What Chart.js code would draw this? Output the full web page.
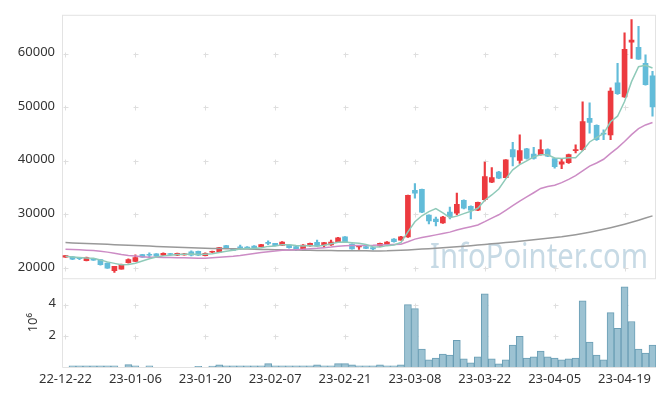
<!DOCTYPE html>
<html>
<head>
<meta charset="utf-8">
<script src="https://cdn.jsdelivr.net/npm/chart.js@4.4.0/dist/chart.umd.min.js"></script>
<style>
  html, body { margin: 0; padding: 0; background: #fff; }
</style>
</head>
<body>
<canvas id="chart1" width="665" height="396"></canvas>
<script>
const dates = [
  '22-12-22','22-12-23','22-12-26','22-12-27','22-12-28','22-12-29',
  '23-01-02','23-01-03','23-01-04','23-01-05','23-01-06','23-01-09','23-01-10','23-01-11','23-01-12','23-01-13',
  '23-01-16','23-01-17','23-01-18','23-01-19','23-01-20','23-01-25','23-01-26','23-01-27','23-01-30','23-01-31',
  '23-02-01','23-02-02','23-02-03','23-02-06','23-02-07','23-02-08','23-02-09','23-02-10','23-02-13','23-02-14',
  '23-02-15','23-02-16','23-02-17','23-02-20','23-02-21','23-02-22','23-02-23','23-02-24','23-02-27','23-02-28',
  '23-03-02','23-03-03','23-03-06','23-03-07','23-03-08','23-03-09','23-03-10','23-03-13','23-03-14','23-03-15',
  '23-03-16','23-03-17','23-03-20','23-03-21','23-03-22','23-03-23','23-03-24','23-03-27','23-03-28','23-03-29',
  '23-03-30','23-03-31','23-04-03','23-04-04','23-04-05','23-04-06','23-04-07','23-04-10','23-04-11','23-04-12',
  '23-04-13','23-04-14','23-04-17','23-04-18','23-04-19','23-04-20','23-04-21','23-04-24','23-04-25'
];

const open = [
  22000,22060,21800,21330,21750,21570,20880,19480,19780,20960,21200,22490,22490,22620,22360,22640,22360,22400,22980,23100,
  22300,22910,22910,24140,23590,23830,23830,24090,23960,24700,24570,24200,24270,23960,23460,24090,24750,24270,24270,24750,
  25800,24460,23900,23960,23780,24090,24380,25380,25190,25800,34460,34640,29850,29120,28380,30410,30220,32620,31510,30780,
  32750,35990,37900,36850,42070,40040,42200,41220,41150,42070,40410,39380,39620,41880,42070,47910,46620,45140,44830,54540,
  51900,62150,61170,58170,55830
];
const high = [
  22350,22100,21950,22000,21800,21600,20950,20300,20700,21700,22430,22550,22800,22650,22800,22700,22750,22700,23200,23150,
  22800,23150,23850,24200,23650,24270,23960,24150,24400,25070,24600,24900,24300,24000,24350,24650,25190,24750,25190,25700,
  25850,24500,24200,24000,23830,24650,24900,25450,25900,33600,35750,34700,29900,29490,29600,31330,33960,32700,31600,32300,
  39750,38700,38000,40200,43430,44830,42300,42510,43910,42200,40500,40410,41250,42990,50980,50800,46700,45750,53620,58170,
  63880,66330,65090,59750,56690
];
const low = [
  21950,21550,21550,21300,21400,20500,19900,19150,19750,20900,21150,21950,22100,22100,22300,22450,22300,22350,22250,22300,
  22250,22850,22850,23600,23200,23460,23590,23650,23900,24330,24100,24150,23700,23220,23400,24050,24050,23960,24200,24700,
  24800,23500,23460,23600,23350,24000,24300,24800,25150,25700,32990,30300,28200,27830,28300,29120,29900,31000,29120,30700,
  32500,35900,36650,36800,39010,39500,40300,40300,41050,40750,38600,38510,39500,41450,41900,45140,43800,43910,43910,52400,
  51800,59090,58900,54100,48330
];
const close = [
  22300,21620,21700,21930,21440,20590,19960,20280,20650,21570,21930,22000,22360,22170,22730,22500,22730,22620,22360,22360,
  22730,23100,23780,23650,23280,23720,23700,23720,24330,24570,24140,24830,23780,23460,24270,24570,24090,24700,24830,25620,
  24880,23540,24140,23650,23540,24570,24830,24880,25800,33540,33960,30410,28750,28620,29490,29540,31880,31140,30780,32250,
  37040,36850,36730,40170,40720,41880,40410,40410,42070,40850,38880,39800,41150,42070,47300,47170,43910,44960,53010,52510,
  60800,62510,58960,54220,50060
];
// volume in millions of shares (axis label 10^6)
const volumeM = [
  0,0.08,0.08,0.08,0.08,0.08,0.08,0.08,0,0.15,0.07,0,0.07,0,0,0,0,0,0,0.05,
  0,0.06,0.14,0.07,0.07,0.07,0.07,0.07,0.07,0.22,0.07,0.07,0.07,0.07,0.07,0.07,0.14,0.07,0.07,0.22,
  0.22,0.14,0.07,0.07,0.07,0.14,0.07,0.07,0.14,4.0,3.75,1.15,0.46,0.58,0.83,0.77,1.72,0.52,0.27,0.65,
  4.7,0.52,0.2,0.46,1.4,1.97,0.58,0.65,1.03,0.65,0.58,0.46,0.52,0.58,4.25,1.6,0.77,0.46,3.49,2.48,
  5.14,2.92,1.15,0.9,1.4
];
const ma5 = [
  22170,22050,21950,21850,21800,21460,21120,20840,20580,20610,20880,21290,21700,22010,22240,22350,22500,22550,22590,22510,
  22560,22630,22870,23120,23310,23510,23630,23610,23750,24010,24090,24320,24330,24160,24100,24180,24030,24220,24490,24760,
  24820,24710,24600,24370,23950,23890,24150,24290,24720,26720,28600,29720,30490,31060,30250,29360,29660,30130,30570,31120,
  32620,33610,34730,36610,38300,39270,39980,40720,41100,41120,40520,40400,40550,40550,41840,43500,44320,45080,47270,48310,
  51040,54760,57560,57800,57310
];
const ma20 = [
  23460,23420,23370,23300,23220,23100,22940,22750,22500,22330,22200,22080,22000,21960,21940,21920,21900,21870,21830,21790,
  21810,21890,21990,22080,22170,22320,22510,22680,22870,23020,23130,23270,23340,23400,23480,23590,23650,23760,23880,24040,
  24150,24170,24190,24190,24200,24250,24300,24360,24430,24880,25370,25650,25900,26160,26420,26670,27060,27380,27680,28010,
  28620,29280,29910,30740,31600,32460,33240,34020,34830,35200,35440,35910,36530,37210,38100,38980,39580,40270,41380,42390,
  43580,44870,45980,46680,47150
];
const maLong = [
  24720,24660,24610,24550,24500,24440,24390,24330,24280,24220,24170,24110,24060,24000,23950,23890,23840,23790,23740,23690,
  23660,23630,23600,23580,23550,23520,23500,23470,23440,23420,23390,23370,23340,23320,23300,23280,23260,23240,23220,23210,
  23200,23190,23180,23180,23170,23170,23180,23220,23270,23340,23420,23500,23590,23680,23770,23860,23950,24050,24150,24260,
  24370,24490,24610,24730,24850,24980,25110,25240,25380,25520,25660,25800,26000,26200,26420,26660,26920,27200,27500,27820,
  28160,28520,28900,29300,29700
];
const priceTicks = [20000, 30000, 40000, 50000, 60000];
const volTicks = [2, 4];

const upColor = '#ec3a3f';
const downColor = '#62bcd9';
const candleColors = close.map((c, i) => c >= open[i] ? upColor : downColor);
const bodies = open.map((o, i) => [Math.min(o, close[i]), Math.max(o, close[i])]);
const wicks = low.map((l, i) => [l, high[i]]);

Chart.defaults.font.family = "'Noto Sans', 'Open Sans', sans-serif";
Chart.defaults.font.size = 13;
Chart.defaults.color = '#333';

// frame, grid crosses and watermark
const decor = {
  id: 'decor',
  beforeDatasetsDraw(chart) {
    const { ctx, chartArea: a, scales } = chart;
    const x = scales.x, y = scales.y, yv = scales.yv;
    ctx.save();
    ctx.font = "34px 'Noto Sans', sans-serif";
    ctx.fillStyle = '#c7dae5';
    ctx.textAlign = 'left';
    ctx.textBaseline = 'alphabetic';
    ctx.fillText('InfoPointer.com', 430, y.bottom - 10, 218);

    ctx.strokeStyle = '#dedede';
    ctx.lineWidth = 1;
    const cross = (px, py) => {
      px = Math.round(px) + 0.5; py = Math.round(py) + 0.5;
      ctx.beginPath();
      ctx.moveTo(px - 2, py); ctx.lineTo(px + 3, py);
      ctx.moveTo(px, py - 2); ctx.lineTo(px, py + 3);
      ctx.stroke();
    };
    dates.forEach((d, i) => {
      if (i % 10 !== 0) return;
      const px = x.getPixelForValue(i);
      priceTicks.forEach(v => cross(px, y.getPixelForValue(v)));
      volTicks.forEach(v => cross(px, yv.getPixelForValue(v)));
    });

    ctx.strokeStyle = '#e3e3e3';
    ctx.strokeRect(a.left + 0.5, y.top + 0.5, a.right - a.left - 1, y.bottom - y.top);
    ctx.beginPath();
    ctx.moveTo(a.left + 0.5, yv.top);
    ctx.lineTo(a.left + 0.5, yv.bottom + 0.5);
    ctx.lineTo(a.right, yv.bottom + 0.5);
    ctx.stroke();
    ctx.restore();
  }
};

const ctx1 = document.getElementById('chart1');
const stockChart = new Chart(ctx1, {
  type: 'bar',
  data: {
    labels: dates,
    datasets: [
      { type: 'line', data: ma5, borderColor: '#8fcab9', borderWidth: 1.5, pointRadius: 0, yAxisID: 'y', order: 1 },
      { type: 'line', data: ma20, borderColor: '#cc8cc5', borderWidth: 1.5, pointRadius: 0, yAxisID: 'y', order: 1 },
      { type: 'line', data: maLong, borderColor: '#999999', borderWidth: 1.5, pointRadius: 0, yAxisID: 'y', order: 1 },
      { data: bodies, backgroundColor: candleColors, yAxisID: 'y', grouped: false, barThickness: 5, minBarLength: 1, order: 2 },
      { data: wicks, backgroundColor: candleColors, yAxisID: 'y', grouped: false, barThickness: 1.5, order: 3 },
      { data: volumeM, backgroundColor: '#9cc2d2', borderColor: '#6a9eb5', borderWidth: 1,
        yAxisID: 'yv', grouped: false, barPercentage: 1, categoryPercentage: 1, order: 4 }
    ]
  },
  options: {
    responsive: false,
    animation: false,
    devicePixelRatio: 1,
    layout: { padding: { top: 10, right: 9, left: 0, bottom: 0 } },
    plugins: { legend: { display: false }, tooltip: { enabled: false } },
    scales: {
      x: {
        type: 'category',
        offset: true,
        grid: { display: false, drawTicks: false },
        border: { display: false },
        ticks: {
          autoSkip: false, maxRotation: 0, minRotation: 0, padding: 4,
          callback: (v, i) => i % 10 === 0 ? dates[i] : ''
        },
        afterFit: s => { s.height = 29; }
      },
      y: {
        position: 'left', stack: 'panel', stackWeight: 267, weight: 1,
        min: 18070, max: 67240,
        grid: { display: false, drawTicks: false },
        border: { display: false },
        afterBuildTicks: s => { s.ticks = priceTicks.map(v => ({ value: v })); },
        ticks: { padding: 7, labelOffset: -1, callback: v => String(v) },
        afterFit: s => { s.width = 62; }
      },
      yv: {
        position: 'left', stack: 'panel', stackWeight: 90, weight: 0,
        min: 0, max: 5.7,
        grid: { display: false, drawTicks: false },
        border: { display: false },
        afterBuildTicks: s => { s.ticks = volTicks.map(v => ({ value: v })); },
        ticks: { padding: 6, labelOffset: -1, callback: v => String(v) },
        title: { display: true, text: '10⁶', padding: { top: 25, bottom: 0 } },
        afterFit: s => { s.width = 62; }
      }
    }
  },
  plugins: [decor]
});
</script>
</body>
</html>
